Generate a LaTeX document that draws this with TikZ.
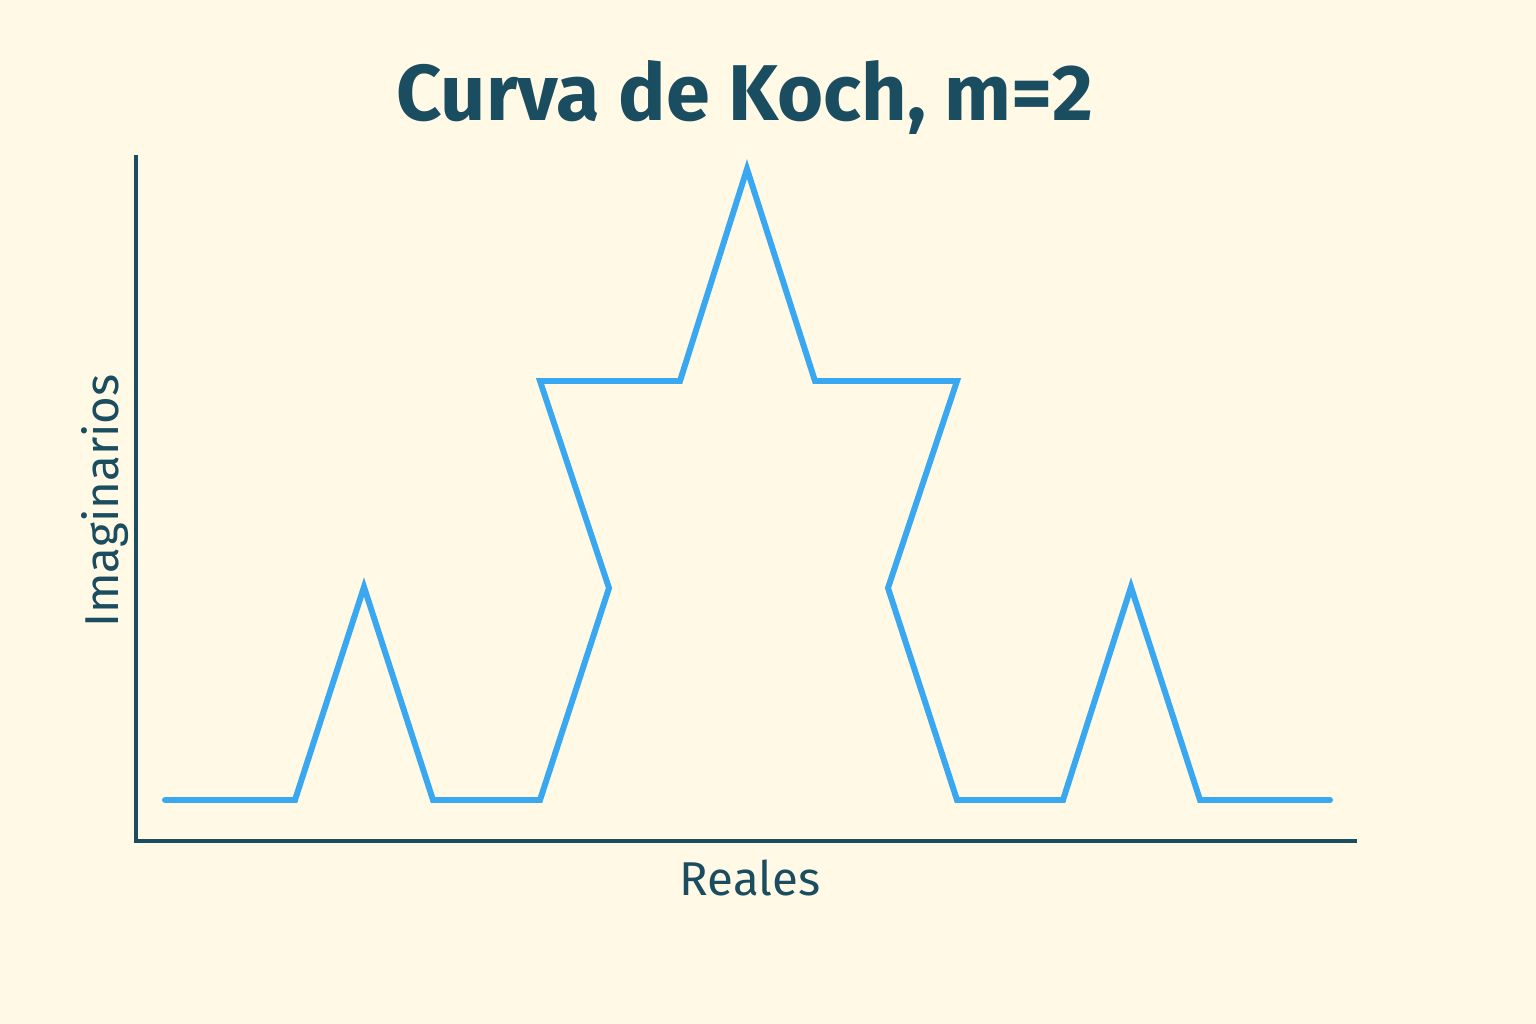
\documentclass[tikz,border=0pt]{standalone}
\usepackage{fontspec}
\setmainfont{Fira Sans}
\usepackage{xcolor}
\usetikzlibrary{positioning}

\definecolor{fondo}{HTML}{FFF9E6}
\definecolor{tinta}{HTML}{1A4D60}
\definecolor{curva}{HTML}{3AA8F0}

\tikzset{
    eje/.style={line width=1.2pt, tinta},
    koch/.style={line width=1.7pt, curva, line join=miter, line cap=round},
    rotulo/.style={text=tinta, font=\fontsize{13.5}{16}\selectfont}
}

\begin{document}
\begin{tikzpicture}[x=0.01cm, y=-0.01cm]
    % 1. Background and bounding box
    \fill[fondo] (0,0) rectangle (1536,1024);
    \useasboundingbox (0,0) rectangle (1536,1024);

    % 2. Title
    \node[text=tinta, font=\fontsize{22.5}{26}\selectfont\bfseries] (titulo) at (745,97) {Curva de Koch, m=2};

    % 3. Axes
    \coordinate (origen) at (136,841);
    \coordinate (ytop) at (136,155);
    \coordinate (xfin) at (1357,841);
    \draw[eje] (ytop) -- (origen) -- (xfin);

    % 4. Axis labels
    \node[rotulo] (reales) at (750,878) {Reales};
    \node[rotulo, rotate=90] (imag) at (105,501) {Imaginarios};

    % 5. Points of the curve
    \coordinate (p0) at (165,800);
    \coordinate (p1) at (295,800);
    \coordinate (p2) at (364,587);
    \coordinate (p3) at (433,800);
    \coordinate (p4) at (540,800);
    \coordinate (p5) at (609,588);
    \coordinate (p6) at (540,381);
    \coordinate (p7) at (680,381);
    \coordinate (p8) at (747,169);
    \coordinate (p9) at (815,381);
    \coordinate (p10) at (957,381);
    \coordinate (p11) at (888,588);
    \coordinate (p12) at (957,800);
    \coordinate (p13) at (1063,800);
    \coordinate (p14) at (1131,587);
    \coordinate (p15) at (1200,800);
    \coordinate (p16) at (1330,800);

    % 6. The curve
    \draw[koch] (p0) \foreach \i in {1,...,16} { -- (p\i) };
\end{tikzpicture}
\end{document}
